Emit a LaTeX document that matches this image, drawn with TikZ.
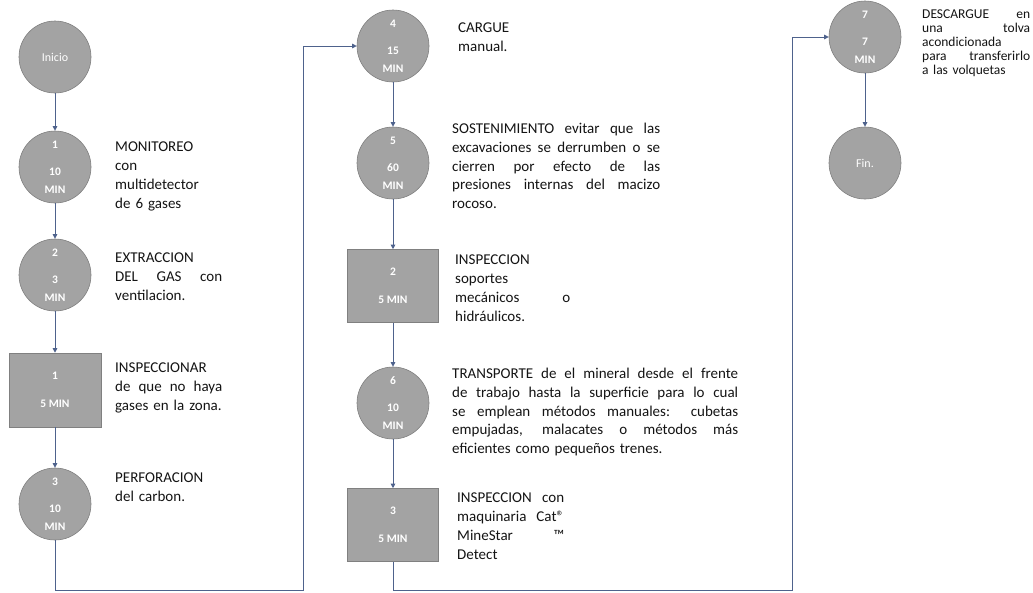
\documentclass[tikz,border=0pt]{standalone}
\usepackage{fontspec}
\setmainfont{Carlito}
\usetikzlibrary{arrows.meta}
\definecolor{nodegray}{RGB}{163,163,163}
\definecolor{nodeedge}{RGB}{128,128,128}
\definecolor{flowcol}{RGB}{78,98,140}
\definecolor{txtcol}{RGB}{20,20,20}
\newcommand\jl[2]{{\spaceskip=0pt\xspaceskip=0pt\makebox[#1][s]{#2}}}
\newcommand\cmin[2]{#1\\[9pt]#2\\MIN}
\tikzset{
  proc/.style={circle, draw=nodeedge, line width=0.6pt, fill=nodegray, minimum size=72pt,
    inner sep=0pt, text=white, align=center, font=\fontsize{11.5}{18}\selectfont\bfseries},
  insp/.style={rectangle, draw=nodeedge, line width=0.6pt, fill=nodegray, minimum width=91pt,
    minimum height=73pt, inner sep=0pt, text=white, align=center, font=\fontsize{11.5}{18}\selectfont\bfseries},
  termin/.style={proc, font=\fontsize{12}{14}\selectfont},
  desc/.style={anchor=north west, inner sep=0pt, align=left, text=txtcol,
    font=\fontsize{15}{18.7}\selectfont},
  descsm/.style={desc, font=\fontsize{13.5}{14}\selectfont},
  flow/.style={draw=flowcol, line width=1pt, -{Triangle[length=4.5pt,width=4.5pt]}}
}
\begin{document}
\begin{tikzpicture}[x=1pt,y=-1pt]
\fill[white] (0,0) rectangle (1033,592);
\useasboundingbox (0,0) rectangle (1033,592);
% column 1
\node[termin] (inicio) at (55,57) {Inicio};
\node[proc] (c1) at (55,167) {\cmin{1}{10}};
\node[proc] (c2) at (55,275) {\cmin{2}{3}};
\node[insp, minimum width=92pt, minimum height=74pt] (r1) at (55,390) {1\\[10pt]5 MIN};
\node[proc] (c3) at (55,504) {\cmin{3}{10}};
% column 2
\node[proc] (c4) at (393,46) {\cmin{4}{15}};
\node[proc] (c5) at (393,163) {\cmin{5}{60}};
\node[insp] (r2) at (393,286) {2\\[10pt]5 MIN};
\node[proc] (c6) at (393,403) {\cmin{6}{10}};
\node[insp] (r3) at (393,525) {3\\[10pt]5 MIN};
% column 3
\node[proc] (c7) at (865,37) {\cmin{7}{7}};
\node[termin] (fin) at (865,163) {Fin.};
% descriptions
\node[desc, text width=110pt] (d1) at (115,142) {MONITOREO\\con\\multidetector\\de 6 gases};
\node[desc, text width=110pt] (d2) at (115,253) {EXTRACCION\\\jl{107pt}{DEL GAS con}\\ventilacion.};
\node[desc, text width=110pt] (d3) at (115,363) {INSPECCIONAR\\\jl{107pt}{de que no haya}\\gases en la zona.};
\node[desc, text width=110pt] (d4) at (115,473) {PERFORACION\\del carbon.};
\node[desc, text width=110pt] (d5) at (458,23) {CARGUE\\manual.};
\node[desc, text width=210pt] (d6) at (452,123) {\jl{208pt}{SOSTENIMIENTO evitar que las}\\\jl{208pt}{excavaciones se derrumben o se}\\\jl{208pt}{cierren por efecto de las}\\\jl{208pt}{presiones internas del macizo}\\rocoso.};
\node[desc, text width=120pt] (d7) at (455,255) {INSPECCION\\soportes\\\jl{115pt}{mecánicos o}\\hidráulicos.};
\node[desc, text width=290pt] (d8) at (452,368) {\jl{286pt}{TRANSPORTE de el mineral desde el frente}\\\jl{286pt}{de trabajo hasta la superficie para lo cual}\\\jl{286pt}{se emplean métodos manuales: cubetas}\\\jl{286pt}{empujadas, malacates o métodos más}\\eficientes como pequeños trenes.};
\node[desc, text width=112pt] (d9) at (457,493) {\jl{107pt}{INSPECCION con}\\\jl{107pt}{maquinaria Cat®}\\\jl{107pt}{MineStar ™}\\Detect};
\node[descsm, text width=110pt] (d10) at (922,10) {\jl{108pt}{DESCARGUE en}\\\jl{108pt}{una tolva}\\acondicionada\\\jl{108pt}{para transferirlo}\\a las volquetas};
% connectors
\coordinate (b1) at (303,590);
\coordinate (b2) at (792,590);
\draw[flow] (inicio) -- (c1);
\draw[flow] (c1) -- (c2);
\draw[flow] (c2) -- (r1);
\draw[flow] (r1) -- (c3);
\draw[flow] (c3.south) |- (b1) |- (c4.west);
\draw[flow] (c4) -- (c5);
\draw[flow] (c5) -- (r2);
\draw[flow] (r2) -- (c6);
\draw[flow] (c6) -- (r3);
\draw[flow] (r3.south) |- (b2) |- (c7.west);
\draw[flow] (c7) -- (fin);
\end{tikzpicture}
\end{document}
